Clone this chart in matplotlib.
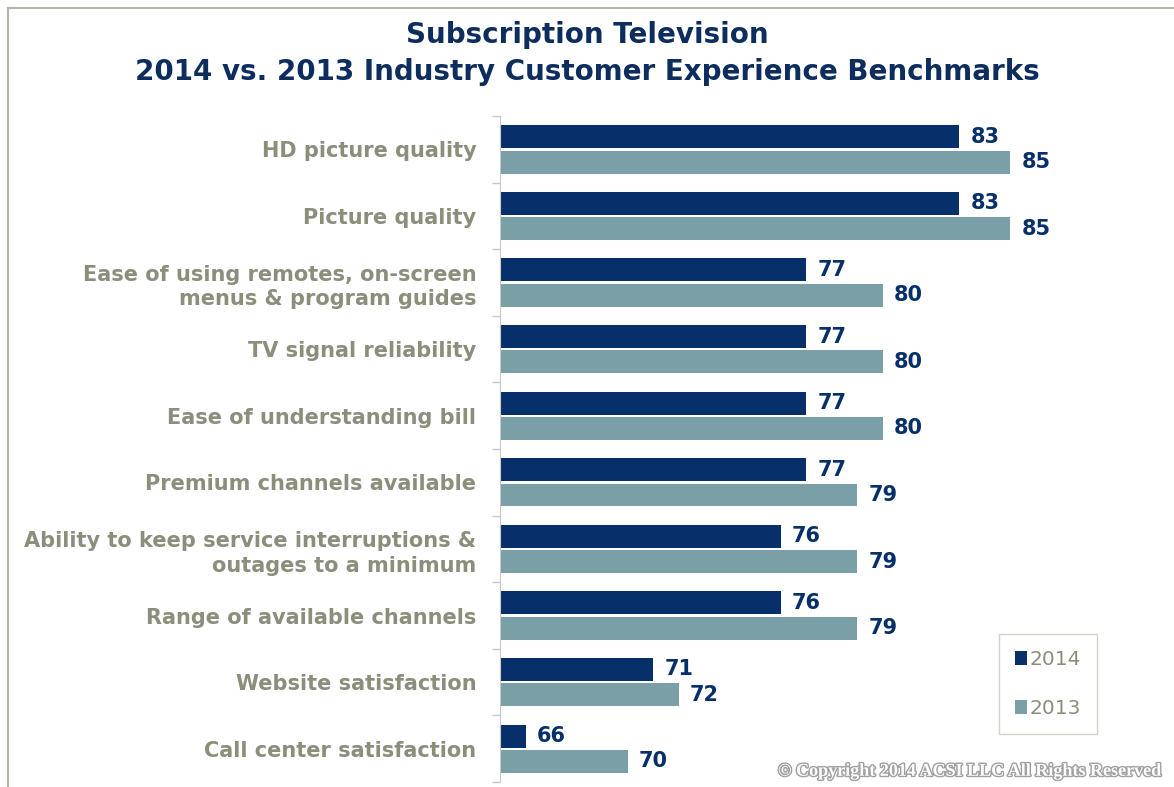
import matplotlib.pyplot as plt
import matplotlib.patheffects as pe
from matplotlib.lines import Line2D
import numpy as np

# benchmark scores, top row first
categories = ['HD picture quality',
              'Picture quality',
              'Ease of using remotes, on-screen\nmenus & program guides',
              'TV signal reliability',
              'Ease of understanding bill',
              'Premium channels available',
              'Ability to keep service interruptions &\noutages to a minimum',
              'Range of available channels',
              'Website satisfaction',
              'Call center satisfaction']
scores_2014 = [83, 83, 77, 77, 77, 77, 76, 76, 71, 66]
scores_2013 = [85, 85, 80, 80, 80, 79, 79, 79, 72, 70]

navy = '#07306a'
teal = '#7a9fa6'
label_grey = '#8a8e7b'

plt.rcParams['font.family'] = ['DejaVu Sans']

fig = plt.figure(figsize=(11.74, 7.87), dpi=100)
ax = fig.add_axes([0.4259, 0.0064, 0.565, 0.846])

y = np.arange(len(categories))
h = 0.345
off = 0.19
base = 65
ax.barh(y - off, np.array(scores_2014) - base, left=base, height=h, color=navy, label='2014')
ax.barh(y + off, np.array(scores_2013) - base, left=base, height=h, color=teal, label='2013')

# value labels at the bar ends
for i in range(len(categories)):
    ax.text(scores_2014[i] + 0.45, y[i] - off, str(scores_2014[i]), va='center', ha='left',
            fontsize=15, fontweight='bold', color=navy)
    ax.text(scores_2013[i] + 0.45, y[i] + off, str(scores_2013[i]), va='center', ha='left',
            fontsize=15, fontweight='bold', color=navy)

ax.set_xlim(base, 91)
ax.set_ylim(len(categories) - 0.5, -0.5)

ax.set_yticks(y)
ax.set_yticklabels(categories, fontsize=15, fontweight='bold', color=label_grey,
                   linespacing=1.3)
ax.tick_params(axis='y', which='major', length=0, pad=17)
ax.set_yticks(np.arange(-0.5, len(categories), 1), minor=True)
ax.tick_params(axis='y', which='minor', length=6, color='#c8c8c8', width=1)
ax.set_xticks([])
for s in ['top', 'right', 'bottom']:
    ax.spines[s].set_visible(False)
ax.spines['left'].set_color('#c8c8c8')

leg = ax.legend(loc='upper left', bbox_to_anchor=(0.737, 0.238), frameon=True, fancybox=False,
                fontsize=14.5, handlelength=0.6, handleheight=0.7, handletextpad=0.1,
                labelspacing=1.5, borderpad=0.8)
leg.get_frame().set_edgecolor('#c8c8c0')
leg.get_frame().set_linewidth(1)
for t in leg.get_texts():
    t.set_color(label_grey)

# title
fig.text(0.5, 0.956, 'Subscription Television', ha='center', va='center',
         fontsize=20, fontweight='bold', color='#0c2d5e')
fig.text(0.5, 0.908, '2014 vs. 2013 Industry Customer Experience Benchmarks', ha='center',
         va='center', fontsize=20, fontweight='bold', color='#0c2d5e')

# copyright note
fig.text(0.988, 0.02, '\u00a9 Copyright 2014 ACSI LLC All Rights Reserved', ha='right',
         va='center', fontsize=13, fontweight='bold', color='white',
         family=['Liberation Serif', 'DejaVu Serif'],
         path_effects=[pe.withStroke(linewidth=2, foreground='#a0a0a0')])

# outer frame lines on the top and left
fig.add_artist(Line2D([0.007, 1.0], [0.99, 0.99], transform=fig.transFigure,
                      color='#b4b4a8', lw=1.5))
fig.add_artist(Line2D([0.007, 0.007], [0.0, 0.99], transform=fig.transFigure,
                      color='#b4b4a8', lw=1.5))

fig.savefig('out.png', dpi=100)
